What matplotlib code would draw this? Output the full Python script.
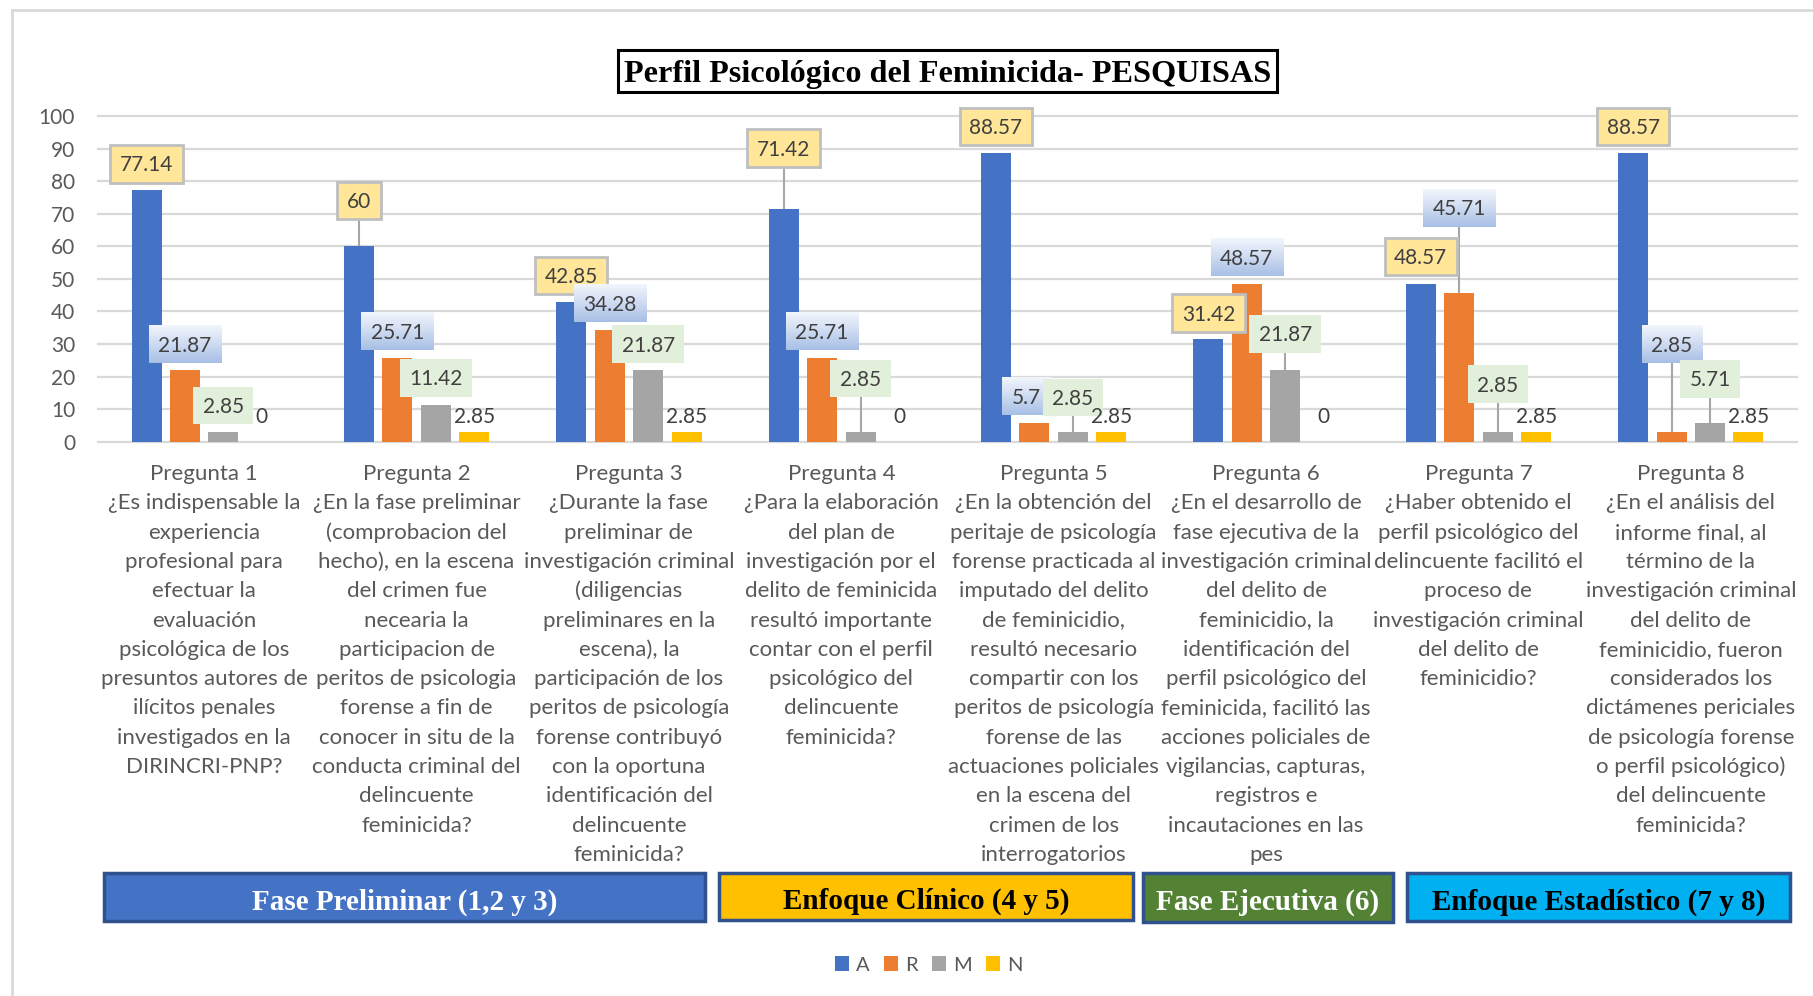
import matplotlib
matplotlib.use('Agg')
import matplotlib.pyplot as plt
import numpy as np
from matplotlib.patches import Rectangle, Patch
from matplotlib.transforms import blended_transform_factory

# ---------------- data ----------------
categories = ['Pregunta 1', 'Pregunta 2', 'Pregunta 3', 'Pregunta 4',
              'Pregunta 5', 'Pregunta 6', 'Pregunta 7', 'Pregunta 8']
questions = [
    ["¿Es indispensable la", "experiencia", "profesional para", "efectuar la", "evaluación",
     "psicológica de los", "presuntos autores de", "ilícitos penales", "investigados en la",
     "DIRINCRI-PNP?"],
    ["¿En la fase preliminar", "(comprobacion del", "hecho), en la escena", "del crimen fue",
     "necearia la", "participacion de", "peritos de psicologia", "forense a fin de",
     "conocer in situ de la", "conducta criminal del", "delincuente", "feminicida?"],
    ["¿Durante la fase", "preliminar de", "investigación criminal", "(diligencias",
     "preliminares en la", "escena), la", "participación de los", "peritos de psicología",
     "forense contribuyó", "con la oportuna", "identificación del", "delincuente", "feminicida?"],
    ["¿Para la elaboración", "del plan de", "investigación por el", "delito de feminicida",
     "resultó importante", "contar con el perfil", "psicológico del", "delincuente", "feminicida?"],
    ["¿En la obtención del", "peritaje de psicología", "forense practicada al",
     "imputado del delito", "de feminicidio,", "resultó necesario", "compartir con los",
     "peritos de psicología", "forense de las", "actuaciones policiales", "en la escena del",
     "crimen de los", "interrogatorios"],
    ["¿En el desarrollo de", "fase ejecutiva de la", "investigación criminal", "del delito de",
     "feminicidio, la", "identificación del", "perfil psicológico del", "feminicida, facilitó las",
     "acciones policiales de", "vigilancias, capturas,", "registros e", "incautaciones en las",
     "pes"],
    ["¿Haber obtenido el", "perfil psicológico del", "delincuente facilitó el", "proceso de",
     "investigación criminal", "del delito de", "feminicidio?"],
    ["¿En el análisis del", "informe final, al", "término de la", "investigación criminal",
     "del delito de", "feminicidio, fueron", "considerados los", "dictámenes periciales",
     "de psicología forense", "o perfil psicológico)", "del delincuente", "feminicida?"],
]
series_names = ['A', 'R', 'M', 'N']
A = [77.14, 60, 42.85, 71.42, 88.57, 31.42, 48.57, 88.57]
R = [21.87, 25.71, 34.28, 25.71, 5.7, 48.57, 45.71, 2.85]
M = [2.85, 11.42, 21.87, 2.85, 2.85, 21.87, 2.85, 5.71]
N = [0, 2.85, 2.85, 0, 2.85, 0, 2.85, 2.85]
yticks = list(range(0, 101, 10))
title = 'Perfil Psicológico del Feminicida- PESQUISAS'
groups = ['Fase Preliminar (1,2 y 3)', 'Enfoque Clínico (4 y 5)',
          'Fase Ejecutiva (6)', 'Enfoque Estadístico (7 y 8)']

# ---------------- layout / style ----------------
# manually placed data-label centres (y, in value units) as in the reference
A_lab_y = [85.3, 74.1, 51.1, 90.2, 96.8, 39.5, 56.9, 96.8]
R_lab_y = [30.0, 34.0, 42.5, 34.0, 13.9, 56.7, 71.8, 29.8]
R_lab_dx = [0, 0, 0, 0, -0.04, 0, 0, 0]
M_lab_y = [11.1, 19.6, 30.0, 19.4, 13.5, 33.1, 17.7, 19.3]
N_lab_base = 5.6

colors = ['#4472C4', '#ED7D31', '#A5A5A5', '#FFC000']
W, H = 1813, 996
FONT = 'Lato'
TXT = '#595959'
LABTXT = '#404040'

fig = plt.figure(figsize=(W / 100, H / 100), dpi=100)
fig.patch.set_facecolor('white')

# overlay axes in pixel coordinates for decorations
ov = fig.add_axes([0, 0, 1, 1], zorder=0)
ov.set_xlim(0, W)
ov.set_ylim(H, 0)
ov.axis('off')

ax_left, ax_right, ax_top, ax_bot = 98, 1797, 116, 441.7
ax = fig.add_axes([ax_left / W, 1 - ax_bot / H, (ax_right - ax_left) / W, (ax_bot - ax_top) / H], zorder=2)
ax.patch.set_visible(False)
ncat = len(categories)
x = np.arange(ncat)
step = 0.181
bw = 0.141
series = [A, R, M, N]
for k, (vals, c) in enumerate(zip(series, colors)):
    ax.bar(x + (k - 1.5) * step, vals, width=bw, color=c, zorder=3, label=series_names[k])

ax.set_xlim(-0.5, ncat - 0.5)
ax.set_ylim(0, 100)
for v in yticks:
    ax.axhline(v, color='#D9D9D9', lw=1.6, zorder=1, clip_on=False)
ax.set_xticks([])
ax.set_yticks(yticks)
ax.tick_params(axis='y', length=0, pad=16.5, labelsize=15, labelcolor=TXT)
for lab in ax.get_yticklabels():
    lab.set_fontfamily(FONT)
for s in ax.spines.values():
    s.set_visible(False)

# ---- data labels ----
fig.canvas.draw()
renderer = fig.canvas.get_renderer()
axbb = ax.get_window_extent(renderer)
ppx = axbb.width / ncat      # pixels per x unit
ppy = axbb.height / 100.0    # pixels per y unit
box_h = 37.5 / ppy
digit_half = 7.6 / ppy
padx = 9.5 / ppx

grad_top = np.array([0.95, 0.965, 0.99])
grad_bot = np.array([0.66, 0.75, 0.90])
grad = np.linspace(0, 1, 64)[:, None, None] * (grad_bot - grad_top) + grad_top
grad = np.repeat(grad, 2, axis=1)

def label(xb, xc, yc, val, kind, bar_val, z):
    s = f'{val:g}'
    t = ax.text(xc, yc - digit_half, s, ha='center', va='baseline', fontsize=15,
                color=LABTXT, fontfamily=FONT, zorder=z + 0.5, clip_on=False)
    bb = t.get_window_extent(renderer)
    w = bb.width / ppx + 2 * padx
    x0, x1 = xc - w / 2, xc + w / 2
    y0, y1 = yc - box_h / 2, yc + box_h / 2
    if kind == 'A':
        ax.add_patch(Rectangle((x0, y0), w, box_h, fc='#FFE699', ec='#BFBFBF', lw=2,
                               zorder=z, clip_on=False))
    elif kind == 'R':
        ax.imshow(grad, extent=[x0, x1, y0, y1], aspect='auto', zorder=z,
                  interpolation='bilinear', clip_on=False)
    else:
        ax.add_patch(Rectangle((x0, y0), w, box_h, fc='#E2EFDA', ec='none',
                               zorder=z, clip_on=False))
    if y0 - bar_val > 12 / ppy:
        ax.plot([xb, xb], [bar_val, y0], color='#A6A6A6', lw=1.5, zorder=2.5, clip_on=False)

z = 5
for i in range(ncat):
    xb = x[i] - 1.5 * step
    label(xb, xb, A_lab_y[i], A[i], 'A', A[i], z)
    z += 1
for i in range(ncat):
    xb = x[i] - 0.5 * step
    label(xb, xb + R_lab_dx[i], R_lab_y[i], R[i], 'R', R[i], z)
    z += 1
for i in range(ncat):
    xb = x[i] + 0.5 * step
    label(xb, xb, M_lab_y[i], M[i], 'M', M[i], z)
    z += 1
for i in range(ncat):
    ax.text(x[i] + 1.5 * step, N_lab_base, f'{N[i]:g}', ha='center', va='baseline',
            fontsize=15, color=LABTXT, fontfamily=FONT, zorder=z + 5, clip_on=False)
ax.set_xlim(-0.5, ncat - 0.5)
ax.set_ylim(0, 100)

# ---- category labels ----
bt = blended_transform_factory(ax.transData, ov.transData)
for i in range(ncat):
    lines = [categories[i]] + questions[i]
    for j, ln in enumerate(lines):
        ov.text(x[i], 480 + 29.3 * j, ln, transform=bt, ha='center', va='baseline',
                fontsize=16, color=TXT, fontfamily=FONT)

# ---- title ----
ov.add_patch(Rectangle((618, 50), 659, 42, fc='white', ec='black', lw=2.2))
ov.text(947.5, 81.5, title, ha='center', va='baseline', fontsize=23.2,
        fontfamily='Liberation Serif', fontweight='bold', color='black')

# ---- group boxes ----
gboxes = [(104, 873, 705, 921), (719, 873, 1133, 920), (1143, 873, 1393, 922), (1407, 873, 1790, 921)]
gfill = ['#4472C4', '#FFC000', '#548235', '#00B0F0']
gtxt = ['white', 'black', 'white', 'black']
for (x0, y0, x1, y1), fc, tc, g in zip(gboxes, gfill, gtxt, groups):
    ov.add_patch(Rectangle((x0, y0), x1 - x0, y1 - y0, fc=fc, ec='#2F528F', lw=2.5))
    ov.text((x0 + x1) / 2, (y0 + y1) / 2 + 5, g, ha='center', va='center', fontsize=21,
            fontfamily='Liberation Serif', fontweight='bold', color=tc)

# ---- outer border (left & top visible) ----
ov.plot([12, 12], [10, H], color='#D9D9D9', lw=2)
ov.plot([12, W], [10, 10], color='#D9D9D9', lw=2)

# ---- legend ----
handles = [Patch(fc=c, ec='none') for c in colors]
leg = fig.legend(handles, series_names, loc='center', bbox_to_anchor=(928.5 / W, 1 - 965 / H),
                 ncol=4, frameon=False, handlelength=0.7, handleheight=0.7,
                 handletextpad=0.35, columnspacing=0.7,
                 prop={'family': FONT, 'size': 14.5})
for t in leg.get_texts():
    t.set_color(TXT)

fig.savefig('out.png', dpi=100, facecolor='white')
